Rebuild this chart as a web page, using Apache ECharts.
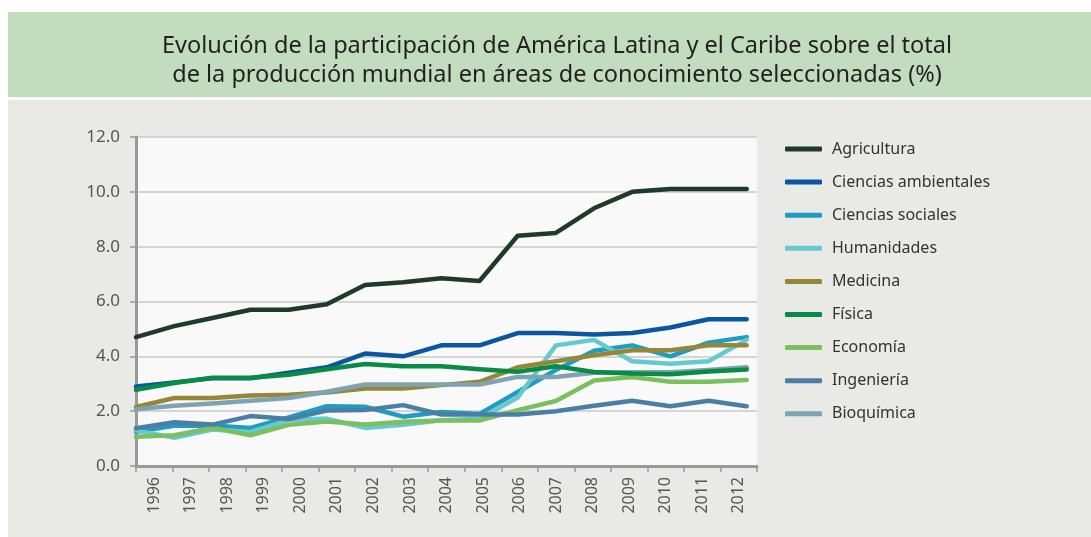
<!DOCTYPE html>
<html>
<head>
<meta charset="utf-8">
<script src="https://cdn.jsdelivr.net/npm/echarts@6/dist/echarts.min.js"></script>
<style>html,body{margin:0;padding:0;background:#fff;}#c{width:1091px;height:537px;}</style>
</head>
<body>
<div id="c"></div>
<script>
const years = ['1996','1997','1998','1999','2000','2001','2002','2003','2004','2005','2006','2007','2008','2009','2010','2011','2012'];
const yTicks = [0, 2, 4, 6, 8, 10, 12];
const seriesNames = ['Agricultura','Ciencias ambientales','Ciencias sociales','Humanidades','Medicina','Física','Economía','Ingeniería','Bioquímica'];
const agricultura = [4.7, 5.1, 5.4, 5.7, 5.7, 5.9, 6.6, 6.7, 6.85, 6.75, 8.4, 8.5, 9.4, 10.0, 10.1, 10.1, 10.1];
const cienciasAmbientales = [2.9, 3.05, 3.2, 3.2, 3.4, 3.6, 4.1, 4.0, 4.4, 4.4, 4.85, 4.85, 4.8, 4.85, 5.05, 5.35, 5.35];
const cienciasSociales = [1.25, 1.47, 1.48, 1.39, 1.77, 2.18, 2.16, 1.8, 1.97, 1.9, 2.7, 3.5, 4.2, 4.4, 4.0, 4.5, 4.7];
const humanidades = [1.3, 1.03, 1.33, 1.24, 1.67, 1.73, 1.39, 1.5, 1.67, 1.72, 2.5, 4.4, 4.6, 3.82, 3.73, 3.82, 4.6];
const medicina = [2.15, 2.48, 2.48, 2.57, 2.6, 2.68, 2.83, 2.83, 2.95, 3.07, 3.6, 3.82, 4.04, 4.22, 4.22, 4.4, 4.4];
const fisica = [2.78, 3.03, 3.22, 3.22, 3.33, 3.53, 3.72, 3.64, 3.64, 3.53, 3.44, 3.64, 3.43, 3.37, 3.35, 3.45, 3.52];
const economia = [1.07, 1.12, 1.39, 1.12, 1.5, 1.62, 1.51, 1.61, 1.66, 1.66, 2.04, 2.37, 3.12, 3.25, 3.07, 3.07, 3.14];
const ingenieria = [1.38, 1.6, 1.51, 1.82, 1.71, 2.02, 2.04, 2.22, 1.88, 1.88, 1.88, 2.0, 2.2, 2.38, 2.18, 2.38, 2.18];
const bioquimica = [2.07, 2.2, 2.28, 2.38, 2.48, 2.71, 2.97, 2.97, 2.97, 2.97, 3.25, 3.25, 3.4, 3.42, 3.42, 3.5, 3.6];
const colors = ['#1f3a2d','#0b56a3','#1e9cc3','#66c9cf','#958735','#078b47','#7bbf5e','#4a7ea3','#7ea3b2'];
const seriesValues = [agricultura, cienciasAmbientales, cienciasSociales, humanidades, medicina, fisica, economia, ingenieria, bioquimica];

const FONT = 'Noto Sans';
const chart = echarts.init(document.getElementById('c'), null, {renderer: 'canvas'});
const option = {
  backgroundColor: '#ffffff',
  animation: false,
  color: colors,
  graphic: [
    {type: 'rect', z: -10, shape: {x: 8, y: 12, width: 1083, height: 85}, style: {fill: '#c2dcbe'}},
    {type: 'rect', z: -10, shape: {x: 8, y: 100, width: 1083, height: 437}, style: {fill: '#e9e9e5'}}
  ],
  title: {
    text: 'Evolución de la participación de América Latina y el Caribe sobre el total\nde la producción mundial en áreas de conocimiento seleccionadas (%)',
    left: 552, top: 27, textAlign: 'center',
    textStyle: {fontFamily: FONT, fontSize: 23.5, fontWeight: 'normal', color: '#231f20', lineHeight: 29}
  },
  legend: {
    orient: 'vertical', left: 785, top: 139, padding: 0,
    icon: 'roundRect', itemWidth: 37, itemHeight: 5, itemGap: 13.1,
    data: seriesNames,
    textStyle: {fontFamily: FONT, fontSize: 16, color: '#333', lineHeight: 20, padding: [0, 0, 0, 5]}
  },
  grid: {left: 136, right: 334, top: 137, bottom: 71, show: true, backgroundColor: '#f9f9f9', borderWidth: 0},
  xAxis: [
    {
      type: 'category', data: years, boundaryGap: true, position: 'bottom',
      axisLine: {lineStyle: {color: '#999999', width: 3}},
      axisTick: {show: true, length: 6, lineStyle: {color: '#999999', width: 1.5}},
      axisLabel: {rotate: 90, fontFamily: FONT, fontSize: 16, color: '#555', margin: 11, padding: [10, 0, 0, 0]},
      splitLine: {show: false}
    },
    {
      type: 'value', min: 1996, max: 2012.27, show: false,
      splitLine: {show: false}
    }
  ],
  yAxis: {
    type: 'value', min: yTicks[0], max: yTicks[yTicks.length - 1], interval: 2,
    axisLine: {show: true, lineStyle: {color: '#999999', width: 3}},
    axisTick: {show: true, length: 6, lineStyle: {color: '#999999', width: 1.5}},
    axisLabel: {fontFamily: FONT, fontSize: 17, color: '#555', margin: 16, formatter: v => v.toFixed(1)},
    splitLine: {show: true, lineStyle: {color: '#c8c8c8', width: 1.5}}
  },
  series: seriesNames.map((name, i) => ({
    name: name, type: 'line', xAxisIndex: 1,
    data: seriesValues[i].map((v, j) => [Number(years[j]), v]),
    showSymbol: false, symbol: 'none',
    z: name === 'Física' ? 4 : 3,
    lineStyle: {width: 4.5, color: colors[i], cap: 'round', join: 'round'},
    itemStyle: {color: colors[i]},
    emphasis: {disabled: true}
  }))
};
chart.setOption(option);
</script>
</body>
</html>
